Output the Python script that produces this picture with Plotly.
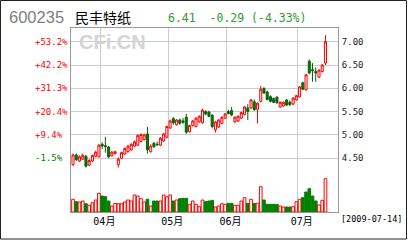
import pandas as pd
import plotly.graph_objects as go

# ---------------- data ----------------
holidays = ["2009-04-06", "2009-05-01", "2009-05-28", "2009-05-29"]
dates = [d for d in pd.bdate_range("2009-03-20", "2009-07-14")
         if d.strftime("%Y-%m-%d") not in holidays]

opens = [4.36, 4.57, 4.44, 4.48, 4.54, 4.35, 4.44, 4.54, 4.53, 4.80,
         4.77, 4.74, 4.55, 4.60, 4.36, 4.50, 4.59, 4.64, 4.68, 4.76,
         4.78, 4.86, 4.90, 5.02, 4.64, 4.82, 4.80, 4.78, 4.87, 4.95,
         5.15, 5.35, 5.22, 5.32, 5.30, 5.38, 5.07, 5.20, 5.18, 5.28,
         5.26, 5.50, 5.49, 5.42, 5.11, 5.17, 5.25, 5.36, 5.50, 5.52,
         5.28, 5.30, 5.36, 5.44, 5.58, 5.58, 5.71, 5.55, 5.72, 6.00,
         5.92, 5.82, 5.78, 5.81, 5.60, 5.62, 5.75, 5.70, 5.66, 5.75,
         5.82, 6.12, 5.97, 6.58, 6.40, 6.36, 6.24, 6.36, 6.54]
highs = [4.60, 4.60, 4.56, 4.60, 4.57, 4.48, 4.58, 4.66, 4.80, 4.84,
         4.96, 4.76, 4.66, 4.66, 4.52, 4.64, 4.73, 4.78, 4.82, 4.88,
         5.01, 5.03, 5.03, 5.17, 4.80, 4.85, 4.86, 4.95, 5.04, 5.20,
         5.33, 5.38, 5.34, 5.35, 5.36, 5.45, 5.22, 5.32, 5.38, 5.42,
         5.56, 5.53, 5.52, 5.45, 5.30, 5.34, 5.40, 5.47, 5.54, 5.60,
         5.40, 5.42, 5.50, 5.62, 5.66, 5.77, 5.76, 5.70, 6.05, 6.02,
         5.95, 5.85, 5.80, 5.83, 5.72, 5.72, 5.77, 5.74, 5.81, 5.86,
         6.05, 6.14, 6.31, 6.62, 6.54, 6.45, 6.41, 6.52, 7.14]
lows = [4.34, 4.44, 4.42, 4.46, 4.30, 4.33, 4.42, 4.52, 4.52, 4.70,
        4.62, 4.50, 4.54, 4.58, 4.30, 4.48, 4.57, 4.62, 4.66, 4.74,
        4.76, 4.84, 4.88, 4.60, 4.62, 4.72, 4.76, 4.76, 4.85, 4.93,
        5.13, 5.22, 5.20, 5.22, 5.24, 5.02, 5.05, 5.18, 5.16, 5.26,
        5.24, 5.42, 5.38, 5.14, 5.05, 5.15, 5.23, 5.34, 5.44, 5.40,
        5.26, 5.28, 5.34, 5.42, 5.32, 5.56, 5.52, 5.25, 5.70, 5.88,
        5.74, 5.70, 5.68, 5.67, 5.58, 5.60, 5.62, 5.62, 5.64, 5.73,
        5.80, 5.96, 5.95, 6.30, 6.14, 6.14, 6.22, 6.34, 6.50]
closes = [4.57, 4.47, 4.53, 4.56, 4.33, 4.45, 4.56, 4.63, 4.78, 4.76,
          4.75, 4.53, 4.63, 4.64, 4.48, 4.62, 4.71, 4.76, 4.80, 4.85,
          4.99, 5.01, 5.00, 4.68, 4.76, 4.75, 4.79, 4.93, 5.02, 5.18,
          5.30, 5.26, 5.32, 5.25, 5.27, 5.06, 5.20, 5.30, 5.36, 5.40,
          5.53, 5.45, 5.40, 5.18, 5.28, 5.32, 5.38, 5.45, 5.46, 5.43,
          5.38, 5.40, 5.48, 5.60, 5.50, 5.75, 5.54, 5.68, 5.98, 5.90,
          5.76, 5.72, 5.70, 5.69, 5.70, 5.70, 5.64, 5.65, 5.79, 5.84,
          6.03, 5.98, 6.29, 6.33, 6.38, 6.33, 6.39, 6.50, 7.00]
volumes = [127, 103, 100, 110, 83, 67, 93, 120, 187, 160,
           153, 110, 60, 85, 83, 83, 100, 120, 110, 170,
           160, 133, 100, 127, 60, 110, 110, 110, 170, 153,
           170, 110, 120, 133, 137, 137, 77, 110, 77, 53,
           120, 103, 110, 117, 50, 60, 83, 77, 87, 87,
           67, 67, 110, 143, 87, 127, 87, 87, 253, 120,
           77, 77, 77, 77, 60, 50, 50, 50, 53, 103,
           127, 143, 200, 233, 160, 110, 70, 117, 333]
vol_up = [1, 0, 1, 1, 0, 1, 1, 1, 1, 0,
          0, 0, 1, 1, 1, 1, 1, 1, 1, 1,
          1, 1, 1, 0, 1, 0, 0, 1, 1, 1,
          1, 0, 1, 0, 0, 0, 1, 1, 1, 1,
          1, 0, 0, 0, 1, 1, 1, 1, 0, 0,
          1, 1, 1, 1, 0, 1, 0, 1, 1, 0,
          0, 0, 0, 0, 1, 1, 0, 0, 1, 1,
          1, 0, 0, 0, 0, 0, 1, 1, 1]

price_ticks = [4.50, 5.00, 5.50, 6.00, 6.50, 7.00]
pct_labels = ["-1.5%", "+9.4%", "+20.4%", "+31.3%", "+42.2%", "+53.2%"]

stock_code = "600235"
stock_name = "民丰特纸"
quote_text = "6.41  -0.29 (-4.33%)"
watermark = "CFi.CN"

# ---------------- layout geometry ----------------
W, H = 408, 240
ML, MR, MT, MB = 71, 70, 28, 28
PW, PH = W - ML - MR, H - MT - MB


def px_x(p):
    return (p - ML) / PW


def px_y(p):
    return (H - MB - p) / PH


idx = list(range(len(dates)))
month_pos = [i + 0.45 for i in idx[1:] if dates[i].month != dates[i - 1].month]
month_lab = ["%02d月" % dates[i].month for i in idx[1:] if dates[i].month != dates[i - 1].month]

RED = "#ff0000"
GREEN = "#008000"

fig = go.Figure()
fig.add_trace(go.Bar(
    x=idx, y=volumes, yaxis="y2", width=0.82,
    marker=dict(color=["#ffffff" if u else GREEN for u in vol_up],
                line=dict(color=[RED if u else GREEN for u in vol_up], width=1)),
    hoverinfo="skip", showlegend=False))
fig.add_trace(go.Candlestick(
    x=idx, open=opens, high=highs, low=lows, close=closes,
    whiskerwidth=0,
    increasing=dict(line=dict(color=RED, width=1), fillcolor="#ffffff"),
    decreasing=dict(line=dict(color="#0b5e0b", width=1), fillcolor=GREEN),
    hoverinfo="skip", showlegend=False))

annotations = []
for p, lab in zip(price_ticks, pct_labels):
    annotations.append(dict(
        x=px_x(33), xref="paper", y=p, yref="y", xanchor="left", yanchor="middle",
        text=lab, showarrow=False,
        font=dict(family="DejaVu Sans Mono", size=9, color=GREEN if lab.startswith("-") else RED)))
annotations += [
    dict(x=px_x(7), y=px_y(16.8), xref="paper", yref="paper", xanchor="left", yanchor="middle",
         text=stock_code, showarrow=False,
         font=dict(family="Liberation Sans", size=16.5, color="#808080")),
    dict(x=px_x(73), y=px_y(17.3), xref="paper", yref="paper", xanchor="left", yanchor="middle",
         text=stock_name, showarrow=False,
         font=dict(family="Noto Sans CJK SC", size=14, color="#000000")),
    dict(x=px_x(166), y=px_y(17.6), xref="paper", yref="paper", xanchor="left", yanchor="middle",
         text=quote_text.replace(" ", "&nbsp;"), showarrow=False,
         font=dict(family="DejaVu Sans Mono", size=11.5, color="#339933")),
    dict(x=px_x(77), y=px_y(42.5), xref="paper", yref="paper", xanchor="left", yanchor="middle",
         text="<b>%s</b>" % watermark, showarrow=False,
         font=dict(family="Liberation Sans", size=20, color="#d4d4d4")),
    dict(x=px_x(339), y=px_y(218.5), xref="paper", yref="paper", xanchor="left", yanchor="middle",
         text="[%s]" % dates[-1].strftime("%Y-%m-%d"), showarrow=False,
         font=dict(family="DejaVu Sans Mono", size=8.5, color="#000000")),
]

shapes = [dict(type="rect", xref="paper", yref="paper",
               x0=px_x(0.5), x1=px_x(406.5), y0=px_y(239), y1=px_y(0.5),
               line=dict(color="#222222", width=1), fillcolor="rgba(0,0,0,0)", layer="above")]

fig.update_layout(
    width=W, height=H, autosize=False,
    margin=dict(l=ML, r=MR, t=MT, b=MB, pad=0),
    paper_bgcolor="#ffffff", plot_bgcolor="#ffffff",
    boxgap=0.1, bargap=0.1,
    showlegend=False,
    annotations=annotations, shapes=shapes,
    xaxis=dict(range=[-0.62, 81.87], tickmode="array", tickvals=month_pos, ticktext=month_lab,
               showgrid=True, gridcolor="#cccccc", gridwidth=1, zeroline=False,
               showline=True, linecolor="#999999", linewidth=1, mirror=True,
               ticks="", ticklabelshift=4, ticklabelstandoff=0,
               rangeslider=dict(visible=False),
               tickfont=dict(family="DejaVu Sans Mono, Noto Sans CJK SC", size=10, color="#000000")),
    yaxis=dict(range=[3.346, 7.294], side="right", tickmode="array", tickvals=price_ticks,
               ticktext=["%.2f" % v for v in price_ticks],
               showgrid=True, gridcolor="#cccccc", gridwidth=1, zeroline=False,
               showline=True, linecolor="#999999", linewidth=1, mirror=True,
               ticks="", ticklabelstandoff=1,
               tickfont=dict(family="DejaVu Sans Mono", size=9, color="#222222")),
    yaxis2=dict(range=[0, PH * 10], overlaying="y", visible=False, showgrid=False),
)

fig.write_html("out.html")
